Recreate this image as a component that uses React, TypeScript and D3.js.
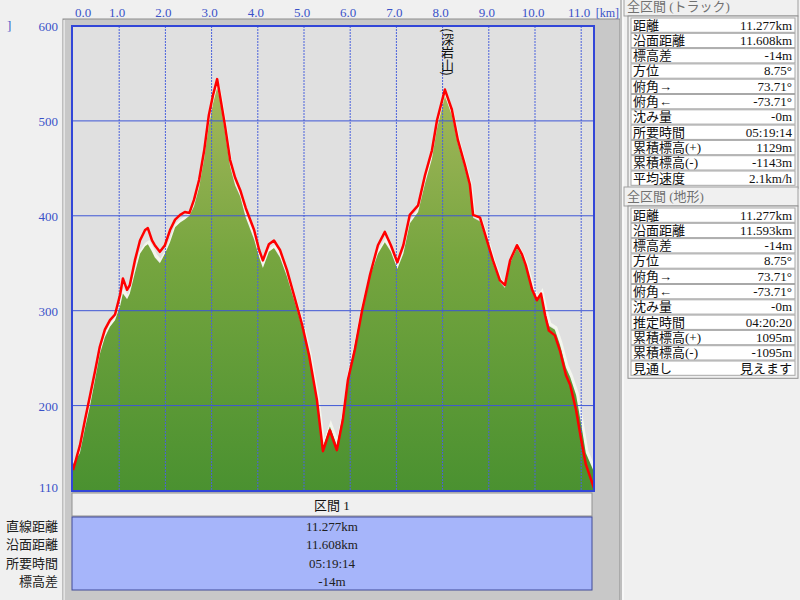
import React from "react";
import * as d3 from "d3";

const distKm = [0.0, 0.15, 0.26, 0.37, 0.48, 0.58, 0.69, 0.8, 0.91, 1.02, 1.08, 1.17, 1.23, 1.34, 1.45, 1.56, 1.62, 1.71, 1.77, 1.88, 1.99, 2.1, 2.21, 2.32, 2.42, 2.52, 2.62, 2.73, 2.84, 2.94, 3.03, 3.12, 3.18, 3.29, 3.4, 3.51, 3.62, 3.74, 3.92, 4.03, 4.11, 4.24, 4.35, 4.48, 4.63, 4.78, 4.96, 5.11, 5.28, 5.41, 5.56, 5.71, 5.84, 5.95, 6.1, 6.26, 6.43, 6.6, 6.75, 6.88, 7.02, 7.15, 7.29, 7.47, 7.62, 7.77, 7.88, 8.05, 8.2, 8.33, 8.48, 8.59, 8.66, 8.81, 8.96, 9.09, 9.24, 9.35, 9.46, 9.61, 9.72, 9.8, 9.94, 10.04, 10.13, 10.22, 10.3, 10.43, 10.54, 10.67, 10.76, 10.89, 11.0, 11.1, 11.277];
const trackElev = [132, 158, 185, 211, 237, 262, 280, 290, 296, 317, 334, 322, 327, 353, 374, 385, 387, 374, 369, 362, 369, 385, 396, 401, 404, 403, 417, 438, 469, 506, 527, 544, 527, 495, 459, 440, 427, 408, 385, 364, 353, 370, 374, 364, 343, 317, 285, 253, 206, 152, 174, 153, 185, 227, 259, 301, 338, 369, 383, 369, 351, 369, 401, 411, 443, 469, 501, 533, 512, 480, 454, 433, 401, 398, 374, 353, 332, 327, 353, 369, 359, 348, 322, 311, 318, 295, 279, 274, 258, 232, 222, 195, 164, 138, 113];
const terrainElev = [138, 150, 176, 200, 228, 254, 272, 283, 290, 305, 318, 312, 318, 340, 360, 368, 370, 362, 356, 350, 360, 372, 388, 393, 396, 400, 410, 430, 460, 495, 518, 535, 522, 488, 452, 432, 420, 398, 375, 356, 345, 362, 366, 356, 336, 312, 282, 252, 206, 156, 178, 158, 190, 230, 264, 304, 336, 360, 372, 362, 344, 360, 392, 404, 434, 460, 492, 526, 506, 476, 450, 430, 398, 394, 372, 350, 330, 324, 350, 366, 356, 346, 322, 312, 318, 298, 284, 280, 264, 240, 230, 211, 180, 150, 130];

const xTicks = [0, 1, 2, 3, 4, 5, 6, 7, 8, 9, 10, 11];
const yTicks = [600, 500, 400, 300, 200, 110];
const yGrid = [500, 400, 300, 200];

const peakName = "(深岩山)";
const peakKm = 8.0;

const trackLabels = ["距離", "沿面距離", "標高差", "方位", "俯角→", "俯角←", "沈み量", "所要時間", "累積標高(+)", "累積標高(-)", "平均速度"];
const trackValues = ["11.277km", "11.608km", "-14m", "8.75°", "73.71°", "-73.71°", "-0m", "05:19:14", "1129m", "-1143m", "2.1km/h"];
const terrainLabels = ["距離", "沿面距離", "標高差", "方位", "俯角→", "俯角←", "沈み量", "推定時間", "累積標高(+)", "累積標高(-)", "見通し"];
const terrainValues = ["11.277km", "11.593km", "-14m", "8.75°", "73.71°", "-73.71°", "-0m", "04:20:20", "1095m", "-1095m", "見えます"];

const sectionLabels = ["直線距離", "沿面距離", "所要時間", "標高差"];
const sectionValues = ["11.277km", "11.608km", "05:19:14", "-14m"];

const FONT = "'Liberation Serif', 'Noto Sans CJK JP', serif";
const BLUE_TXT = "#3a52c8";

function Panel({ top, title, labels, values }: { top: number; title: string; labels: string[]; values: string[] }) {
  const rowH = 15.3;
  const boxTop = top + 21;
  return (
    <g>
      <rect x={624} y={top} width={174} height={19} fill="#f0f0f0" stroke="#a0a0a0" />
      <text x={627} y={top + 14} fontSize={13} fill="#707070" fontFamily={FONT}>{title}</text>
      <rect x={628} y={boxTop - 2} width={170} height={labels.length * rowH + 4} fill="#f0f0f0" stroke="#909090" />
      {labels.map((l, i) => (
        <g key={i}>
          <rect x={631} y={boxTop + i * rowH} width={164} height={rowH - 1} fill="#ffffff" stroke="#a8a8a8" strokeWidth={1} />
          <text x={633} y={boxTop + i * rowH + 11.5} fontSize={13} fill="#101010" fontFamily={FONT}>{l}</text>
          <text x={792} y={boxTop + i * rowH + 11.5} fontSize={13} fill="#101010" fontFamily={FONT} textAnchor="end">{values[i]}</text>
        </g>
      ))}
    </g>
  );
}

export default function App() {
  const x = d3.scaleLinear().domain([0, 11.277]).range([73, 594]);
  const y = d3.scaleLinear().domain([110, 600]).range([491, 26]);
  const pts = distKm.map((d, i) => ({ d, t: trackElev[i], g: terrainElev[i] }));
  const area = d3.area<any>().x((p) => x(p.d)).y0(y(110)).y1((p) => y(p.g));
  const terrLine = d3.line<any>().x((p) => x(p.d)).y((p) => y(p.g));
  const trackLine = d3.line<any>().x((p) => x(p.d)).y((p) => y(p.t));

  return (
    <div style={{ position: "absolute", left: 0, top: 0, width: 800, height: 600 }}>
      <svg width={800} height={600} style={{ display: "block" }}>
        <defs>
          <linearGradient id="terr" gradientUnits="userSpaceOnUse" x1={0} y1={70} x2={0} y2={491}>
            <stop offset="0%" stopColor="#a9b95e" />
            <stop offset="45%" stopColor="#76a53f" />
            <stop offset="100%" stopColor="#4a9130" />
          </linearGradient>
          <clipPath id="plotClip">
            <rect x={73} y={27} width={521} height={464} />
          </clipPath>
        </defs>
        <rect x={0} y={0} width={800} height={600} fill="#f0f0f0" />
        {/* chart frame */}
        <rect x={63} y={19} width={557} height={590} fill="#c8c8c8" stroke="#8c8c8c" />
        <line x1={64} y1={20} x2={64} y2={600} stroke="#ffffff" />
        {/* plot background */}
        <rect x={72} y={26} width={522} height={465} fill="#e0e0e0" />
        <g clipPath="url(#plotClip)">
          <path d={terrLine(pts) ?? ""} fill="none" stroke="#f4f6ee" strokeWidth={3} transform="translate(1,-2)" />
          <path d={area(pts) ?? ""} fill="url(#terr)" />
          {xTicks.filter((t) => t > 0).map((t) => (
            <line key={t} x1={x(t)} x2={x(t)} y1={26} y2={491} stroke="#4a62dc" strokeWidth={1} strokeDasharray="2,1" />
          ))}
          {yGrid.map((t) => (
            <line key={t} x1={72} x2={594} y1={y(t)} y2={y(t)} stroke="#3e56d6" strokeWidth={1} />
          ))}
          <path d={trackLine(pts) ?? ""} fill="none" stroke="#ff0000" strokeWidth={2.5} strokeLinejoin="round" />
        </g>
        <rect x={72} y={26} width={522} height={465} fill="none" stroke="#3246d8" strokeWidth={2} />
        {/* peak label, vertical writing */}
        <text
          x={x(peakKm) + 5}
          y={28}
          fontSize={13}
          fill="#101010"
          fontFamily="'Noto Sans CJK JP', sans-serif"
          style={{ writingMode: "vertical-rl", textOrientation: "mixed" } as any}
        >
          {peakName}
        </text>
        {/* right panel */}
        <rect x={620} y={0} width={180} height={600} fill="#f0f0f0" />
        <line x1={621} y1={0} x2={621} y2={600} stroke="#8c8c8c" />
        <line x1={623} y1={0} x2={623} y2={600} stroke="#ffffff" />
        <Panel top={-3} title="全区間 (トラック)" labels={trackLabels} values={trackValues} />
        <Panel top={187} title="全区間 (地形)" labels={terrainLabels} values={terrainValues} />
        {/* top axis */}
        {xTicks.map((t) => (
          <text key={t} x={t === 0 ? x(t) + 10 : x(t) - 2} y={17} fontSize={13} fill={BLUE_TXT} fontFamily={FONT} textAnchor="middle">
            {t.toFixed(1)}
          </text>
        ))}
        <text x={619} y={17} fontSize={12} fill={BLUE_TXT} fontFamily={FONT} textAnchor="end">[km]</text>
        {/* left axis */}
        {yTicks.map((t) => (
          <text key={t} x={58} y={t === 110 ? y(t) + 1 : y(t) + 5} fontSize={13} fill={BLUE_TXT} fontFamily={FONT} textAnchor="end">
            {t}
          </text>
        ))}
        <text x={7} y={30} fontSize={13} fill={BLUE_TXT} fontFamily={FONT}>]</text>
        {/* bottom section table */}
        <rect x={72} y={493} width={520} height={23} fill="#f0f0f0" stroke="#909090" />
        <text x={332} y={510} fontSize={13} fill="#101010" fontFamily={FONT} textAnchor="middle">区間 1</text>
        <rect x={72} y={517} width={520} height={73} fill="#a6b5fa" stroke="#404a98" />
        {sectionValues.map((v, i) => (
          <text key={i} x={332} y={531 + i * 18.3} fontSize={13} fill="#202020" fontFamily={FONT} textAnchor="middle">{v}</text>
        ))}
        {sectionLabels.map((l, i) => (
          <text key={i} x={58} y={531 + i * 18.3} fontSize={13} fill="#202020" fontFamily={FONT} textAnchor="end">{l}</text>
        ))}
      </svg>
    </div>
  );
}
